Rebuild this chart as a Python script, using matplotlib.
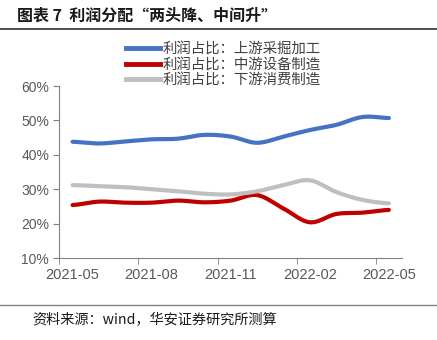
import numpy as np
import matplotlib
matplotlib.use('Agg')
from matplotlib import pyplot as plt
from matplotlib.lines import Line2D

plt.rcParams['font.family'] = ['Noto Sans CJK SC', 'DejaVu Sans']

# monthly data, 2021-05 .. 2022-05 (percent)
mois = ['2021-05', '2021-06', '2021-07', '2021-08', '2021-09', '2021-10', '2021-11',
        '2021-12', '2022-01', '2022-02', '2022-03', '2022-04', '2022-05']
amont = [43.8, 43.3, 43.9, 44.5, 44.7, 45.8, 45.3, 43.5, 45.3, 47.2, 48.7, 51.0, 50.7]
milieu = [25.4, 26.4, 26.1, 26.1, 26.7, 26.2, 26.7, 28.3, 24.4, 20.4, 22.8, 23.2, 24.0]
aval = [31.2, 30.9, 30.6, 30.0, 29.4, 28.7, 28.5, 29.4, 31.2, 32.6, 29.2, 26.9, 25.9]
noms = ['利润占比：上游采掘加工', '利润占比：中游设备制造', '利润占比：下游消费制造']
couleurs = ['#4472C4', '#C00000', '#BFBFBF']
ticks_lab = ['2021-05', '2021-08', '2021-11', '2022-02', '2022-05']


def lisse(x, y, n=20):
    ''' courbe lissée type Catmull-Rom entre les points'''
    x = np.asarray(x, float)
    y = np.asarray(y, float)
    xs, ys = [], []
    for k in range(len(x) - 1):
        p0 = y[k - 1] if k > 0 else y[k]
        p3 = y[k + 2] if k + 2 < len(y) else y[k + 1]
        p1, p2 = y[k], y[k + 1]
        t = np.linspace(0, 1, n, endpoint=False)
        yy = 0.5 * (2 * p1 + (-p0 + p2) * t + (2 * p0 - 5 * p1 + 4 * p2 - p3) * t ** 2
                    + (-p0 + 3 * p1 - 3 * p2 + p3) * t ** 3)
        xs.append(x[k] + (x[k + 1] - x[k]) * t)
        ys.append(yy)
    xs.append([x[-1]])
    ys.append([y[-1]])
    return np.concatenate(xs), np.concatenate(ys)


fig = plt.figure(figsize=(4.37, 3.40), dpi=100)
ax = fig.add_axes([0.136, 0.241, 0.784, 0.506])

X = np.arange(len(mois)) + 0.5
for serie, c in zip([amont, milieu, aval], couleurs):
    xs, ys = lisse(X, serie)
    ax.plot(xs, ys, color=c, lw=3, solid_capstyle='round')

ax.set_xlim(0, 13)
ax.set_ylim(10, 60)
ax.set_yticks(range(10, 61, 10))
ax.set_yticklabels([str(v) + '%' for v in range(10, 61, 10)])
# étiquettes centrées sur les mois, graduations entre les mois
ax.set_xticks(X[::3])
ax.set_xticklabels(ticks_lab)
ax.set_xticks(np.arange(0, 13, 3), minor=True)
for s in ['top', 'right']:
    ax.spines[s].set_visible(False)
for s in ['left', 'bottom']:
    ax.spines[s].set_color('#808080')
ax.tick_params(axis='y', colors='#808080', labelcolor='#595959',
               labelsize=10, length=4, direction='out')
ax.tick_params(axis='x', which='major', length=0, labelcolor='#595959',
               labelsize=10.5, pad=7)
ax.tick_params(axis='x', which='minor', length=4, color='#808080', direction='out')
for lab in ax.get_xticklabels() + ax.get_yticklabels():
    lab.set_family(['Liberation Sans', 'DejaVu Sans'])

poignees = [Line2D([], [], color=c, lw=3.5) for c in couleurs]
fig.legend(poignees, noms, loc='upper left', bbox_to_anchor=(0.275, 0.893),
           frameon=False, fontsize=10.4, handlelength=2.35, handletextpad=0.2,
           labelspacing=0.1, labelcolor='#404040', borderaxespad=0.0)

fig.text(0.038, 0.955, '图表 7  利润分配“两头降、中间升”', fontsize=11.5,
         fontweight='bold', va='center', ha='left', color='#1a1a1a')
fig.add_artist(Line2D([0.0, 1.0], [0.916, 0.916], color='#404040', lw=1.3))
fig.add_artist(Line2D([0.0, 1.0], [0.103, 0.103], color='#808080', lw=1))
fig.text(0.073, 0.058, '资料来源：wind，华安证券研究所测算', fontsize=10.2,
         va='center', ha='left', color='#1a1a1a')

fig.savefig('out.png', dpi=100)
